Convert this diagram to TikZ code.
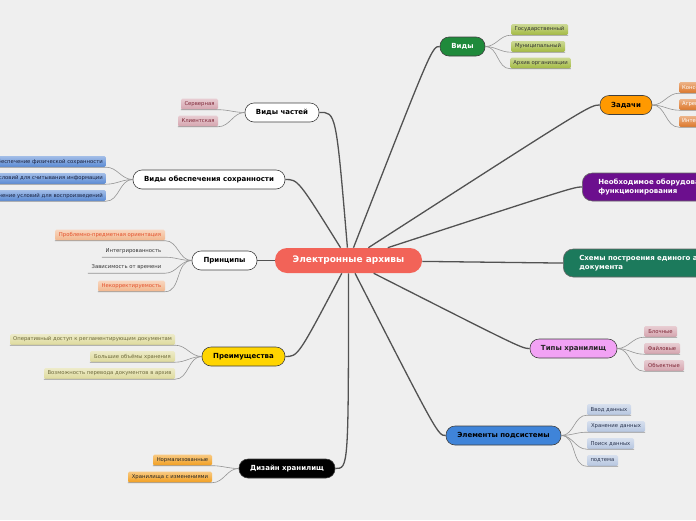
\documentclass[tikz,border=0pt]{standalone}
\usepackage{fontspec}
\setmainfont{DejaVu Sans}
\usetikzlibrary{shapes.misc}
\definecolor{bgc}{HTML}{EFEFEF}
\definecolor{cred}{HTML}{F26358}
\definecolor{cgreen}{HTML}{1F8A3B}
\definecolor{corange}{HTML}{FF9900}
\definecolor{cpurple}{HTML}{6C0F8E}
\definecolor{cteal}{HTML}{1C7A5C}
\definecolor{cviolet}{HTML}{F2A2F5}
\definecolor{cblue}{HTML}{3F84D9}
\definecolor{cyellow}{HTML}{FFD500}
\definecolor{kolive}{HTML}{A3BA40}
\definecolor{kzad}{HTML}{DD7628}
\definecolor{kpink}{HTML}{D5A4AE}
\definecolor{kpinktext}{HTML}{7E2636}
\definecolor{kblue}{HTML}{5889D4}
\definecolor{kbluetext}{HTML}{18203E}
\definecolor{kpeach}{HTML}{F2B68C}
\definecolor{kpeachtext}{HTML}{E4502A}
\definecolor{kkhaki}{HTML}{DEDA9C}
\definecolor{kkhakitext}{HTML}{6E6A3C}
\definecolor{kdiz}{HTML}{F29E1E}
\definecolor{klblue}{HTML}{B6C6E0}
\definecolor{klbluetext}{HTML}{28324C}
\begin{document}
\begin{tikzpicture}[x=1pt,y=-1pt,
  mainnode/.style={rectangle, rounded corners=9pt, draw=black!75, line width=0.6pt, minimum height=19pt,
    inner xsep=4pt, inner ysep=1pt, font=\fontsize{7}{8.5}\selectfont\bfseries, text=black},
  widenode/.style={rectangle, rounded corners=10pt, draw=black!60, line width=0.6pt, minimum height=28pt,
    minimum width=200pt, anchor=west, align=left, inner xsep=16pt, text width=168pt,
    font=\fontsize{7}{9}\selectfont\bfseries, text=white},
  subbox/.style={rectangle, rounded corners=1.5pt, minimum height=11pt, inner xsep=3pt, inner ysep=0pt,
    font=\fontsize{5.3}{6}\selectfont, top color=#1!55!white, bottom color=#1},
  plain/.style={rectangle, minimum height=11pt, inner xsep=3pt, inner ysep=0pt,
    font=\fontsize{5.3}{6}\selectfont, text=black!80},
  conn/.style={draw=black!68, line width=1.3pt},
  sub/.style={draw=black!42, line width=0.6pt}]
\clip (0,0) rectangle (696,520);
\fill[bgc] (0,0) rectangle (696,520);

% main nodes
\node[mainnode, fill=cred, draw=none, rounded corners=12pt, minimum width=147pt, minimum height=25pt, text=white,
  font=\fontsize{9}{10}\selectfont\bfseries] (ce) at (348.5,260.5) {Электронные архивы};
\node[mainnode, fill=cgreen, text=white, minimum width=45pt] (vidy) at (462.5,46.5) {Виды};
\node[mainnode, fill=corange, minimum width=52pt] (zad) at (626,105) {Задачи};
\node[widenode, fill=cpurple] (neo) at (582,187) {Необходимое оборудование для\\функционирования};
\node[widenode, fill=cteal] (sch) at (563,263) {Схемы построения единого архивного\\документа};
\node[mainnode, fill=cviolet, text=black!85, minimum width=87pt] (tip) at (573.5,348.5) {Типы хранилищ};
\node[mainnode, fill=cblue, minimum width=115pt] (elem) at (503.5,435.5) {Элементы подсистемы};
\node[mainnode, fill=black, text=white, minimum width=96pt] (diz) at (287,468.5) {Дизайн хранилищ};
\node[mainnode, fill=cyellow, minimum width=83pt] (pre) at (243.5,356.5) {Преимущества};
\node[mainnode, fill=white, minimum width=65pt] (pri) at (224.5,260.5) {Принципы};
\node[mainnode, fill=white, minimum width=152pt] (vos) at (209,179.5) {Виды обеспечения сохранности};
\node[mainnode, fill=white, minimum width=74pt] (vch) at (282,112.5) {Виды частей};

% main connectors
\draw[conn] (ce) .. controls (336,112) .. (vch.east);
\draw[conn] (ce) .. controls (298,179.5) .. (vos.east);
\draw[conn] (ce.west) -- (pri.east);
\draw[conn] (ce) .. controls (298,356.5) .. (pre.east);
\draw[conn] (ce) .. controls (348.5,468.5) .. (diz.east);
\draw[conn] (ce) .. controls (432,46.5) .. (vidy.west);
\draw[conn] (ce) .. controls (590,105) .. (zad.west);
\draw[conn] (ce) .. controls (574,187) .. (neo.west);
\draw[conn] (ce) .. controls (555,263) .. (sch.west);
\draw[conn] (ce) .. controls (522,348.5) .. (tip.west);
\draw[conn] (ce) .. controls (438,435.5) .. (elem.west);

% Виды
\node[subbox=kolive, text=black!80, minimum width=57pt] (g1) at (539.5,29.5) {Государственный};
\node[subbox=kolive, text=black!80, minimum width=54pt] (g2) at (538,46.5) {Муниципальный};
\node[subbox=kolive, text=black!80, minimum width=59pt] (g3) at (540.5,63) {Архив организации};
\foreach \c in {g1,g2,g3}
  \draw[sub] (vidy.east) to[out=0,in=180] (\c.south west) -- (\c.south east);

% Задачи
\node[subbox=kzad, text=white, anchor=west] (z1) at (679,87.5) {Консолидация};
\node[subbox=kzad, text=white, anchor=west] (z2) at (679,104.5) {Агрегация};
\node[subbox=kzad, text=white, anchor=west] (z3) at (679,121.5) {Интеграция};
\foreach \c in {z1,z2,z3}
  \draw[sub] (zad.east) to[out=0,in=180] (\c.south west) -- (\c.south east);

% Виды частей
\node[subbox=kpink, text=kpinktext, minimum width=37pt] (s1) at (199.5,104) {Серверная};
\node[subbox=kpink, text=kpinktext, minimum width=40pt] (s2) at (198,121) {Клиентская};
\foreach \c in {s1,s2}
  \draw[sub] (vch.west) to[out=180,in=0] (\c.south east) -- (\c.south west);

% Виды обеспечения сохранности
\node[subbox=kblue, text=kbluetext, anchor=east] (o1) at (106,161.5) {Обеспечение физической сохранности};
\node[subbox=kblue, text=kbluetext, anchor=east] (o2) at (106,178.5) {Создание условий для считывания информации};
\node[subbox=kblue, text=kbluetext, anchor=east] (o3) at (106,195.5) {Обеспечение условий для воспроизведений};
\foreach \c in {o1,o2,o3}
  \draw[sub] (vos.west) to[out=180,in=0] (\c.south east) -- (\c.south west);

% Принципы
\node[subbox=kpeach, text=kpeachtext, minimum width=110pt] (p1) at (110,235) {Проблемно-предметная ориентация};
\node[plain, minimum width=63pt] (p2) at (133.5,251.5) {Интегрированность};
\node[plain, minimum width=77pt] (p3) at (126.5,267.5) {Зависимость от времени};
\node[subbox=kpeach, text=kpeachtext, minimum width=67pt] (p4) at (131.5,286) {Некорректируемость};
\foreach \c in {p1,p2,p3,p4}
  \draw[sub] (pri.west) to[out=180,in=0] (\c.south east) -- (\c.south west);

% Преимущества
\node[subbox=kkhaki, text=kkhakitext, minimum width=165pt] (a1) at (92.5,339.5) {Оперативный доступ к регламентирующим документам};
\node[subbox=kkhaki, text=kkhakitext, minimum width=85pt] (a2) at (132.5,356.5) {Большие объёмы хранения};
\node[subbox=kkhaki, text=kkhakitext, minimum width=131pt] (a3) at (109.5,373.5) {Возможность перевода документов в архив};
\foreach \c in {a1,a2,a3}
  \draw[sub] (pre.west) to[out=180,in=0] (\c.south east) -- (\c.south west);

% Дизайн хранилищ
\node[subbox=kdiz, text=black!85, minimum width=59pt] (d1) at (182.5,460) {Нормализованные};
\node[subbox=kdiz, text=black!85, minimum width=84pt] (d2) at (170,477) {Хранилища с изменениями};
\foreach \c in {d1,d2}
  \draw[sub] (diz.west) to[out=180,in=0] (\c.south east) -- (\c.south west);

% Типы хранилищ
\node[subbox=kpink, text=kpinktext, minimum width=33pt] (t1) at (660.5,331.5) {Блочные};
\node[subbox=kpink, text=kpinktext, minimum width=36pt] (t2) at (662,348.5) {Файловые};
\node[subbox=kpink, text=kpinktext, minimum width=40pt] (t3) at (664,365.5) {Объектные};
\foreach \c in {t1,t2,t3}
  \draw[sub] (tip.east) to[out=0,in=180] (\c.south west) -- (\c.south east);

% Элементы подсистемы
\node[subbox=klblue, text=klbluetext, minimum width=44pt] (e1) at (609,409.5) {Ввод данных};
\node[subbox=klblue, text=klbluetext, minimum width=58pt] (e2) at (616,426.5) {Хранение данных};
\node[subbox=klblue, text=klbluetext, minimum width=47pt] (e3) at (610.5,443.5) {Поиск данных};
\node[subbox=klblue, text=klbluetext, minimum width=31pt] (e4) at (602.5,460.5) {подтема};
\foreach \c in {e1,e2,e3,e4}
  \draw[sub] (elem.east) to[out=0,in=180] (\c.south west) -- (\c.south east);
\end{tikzpicture}
\end{document}
